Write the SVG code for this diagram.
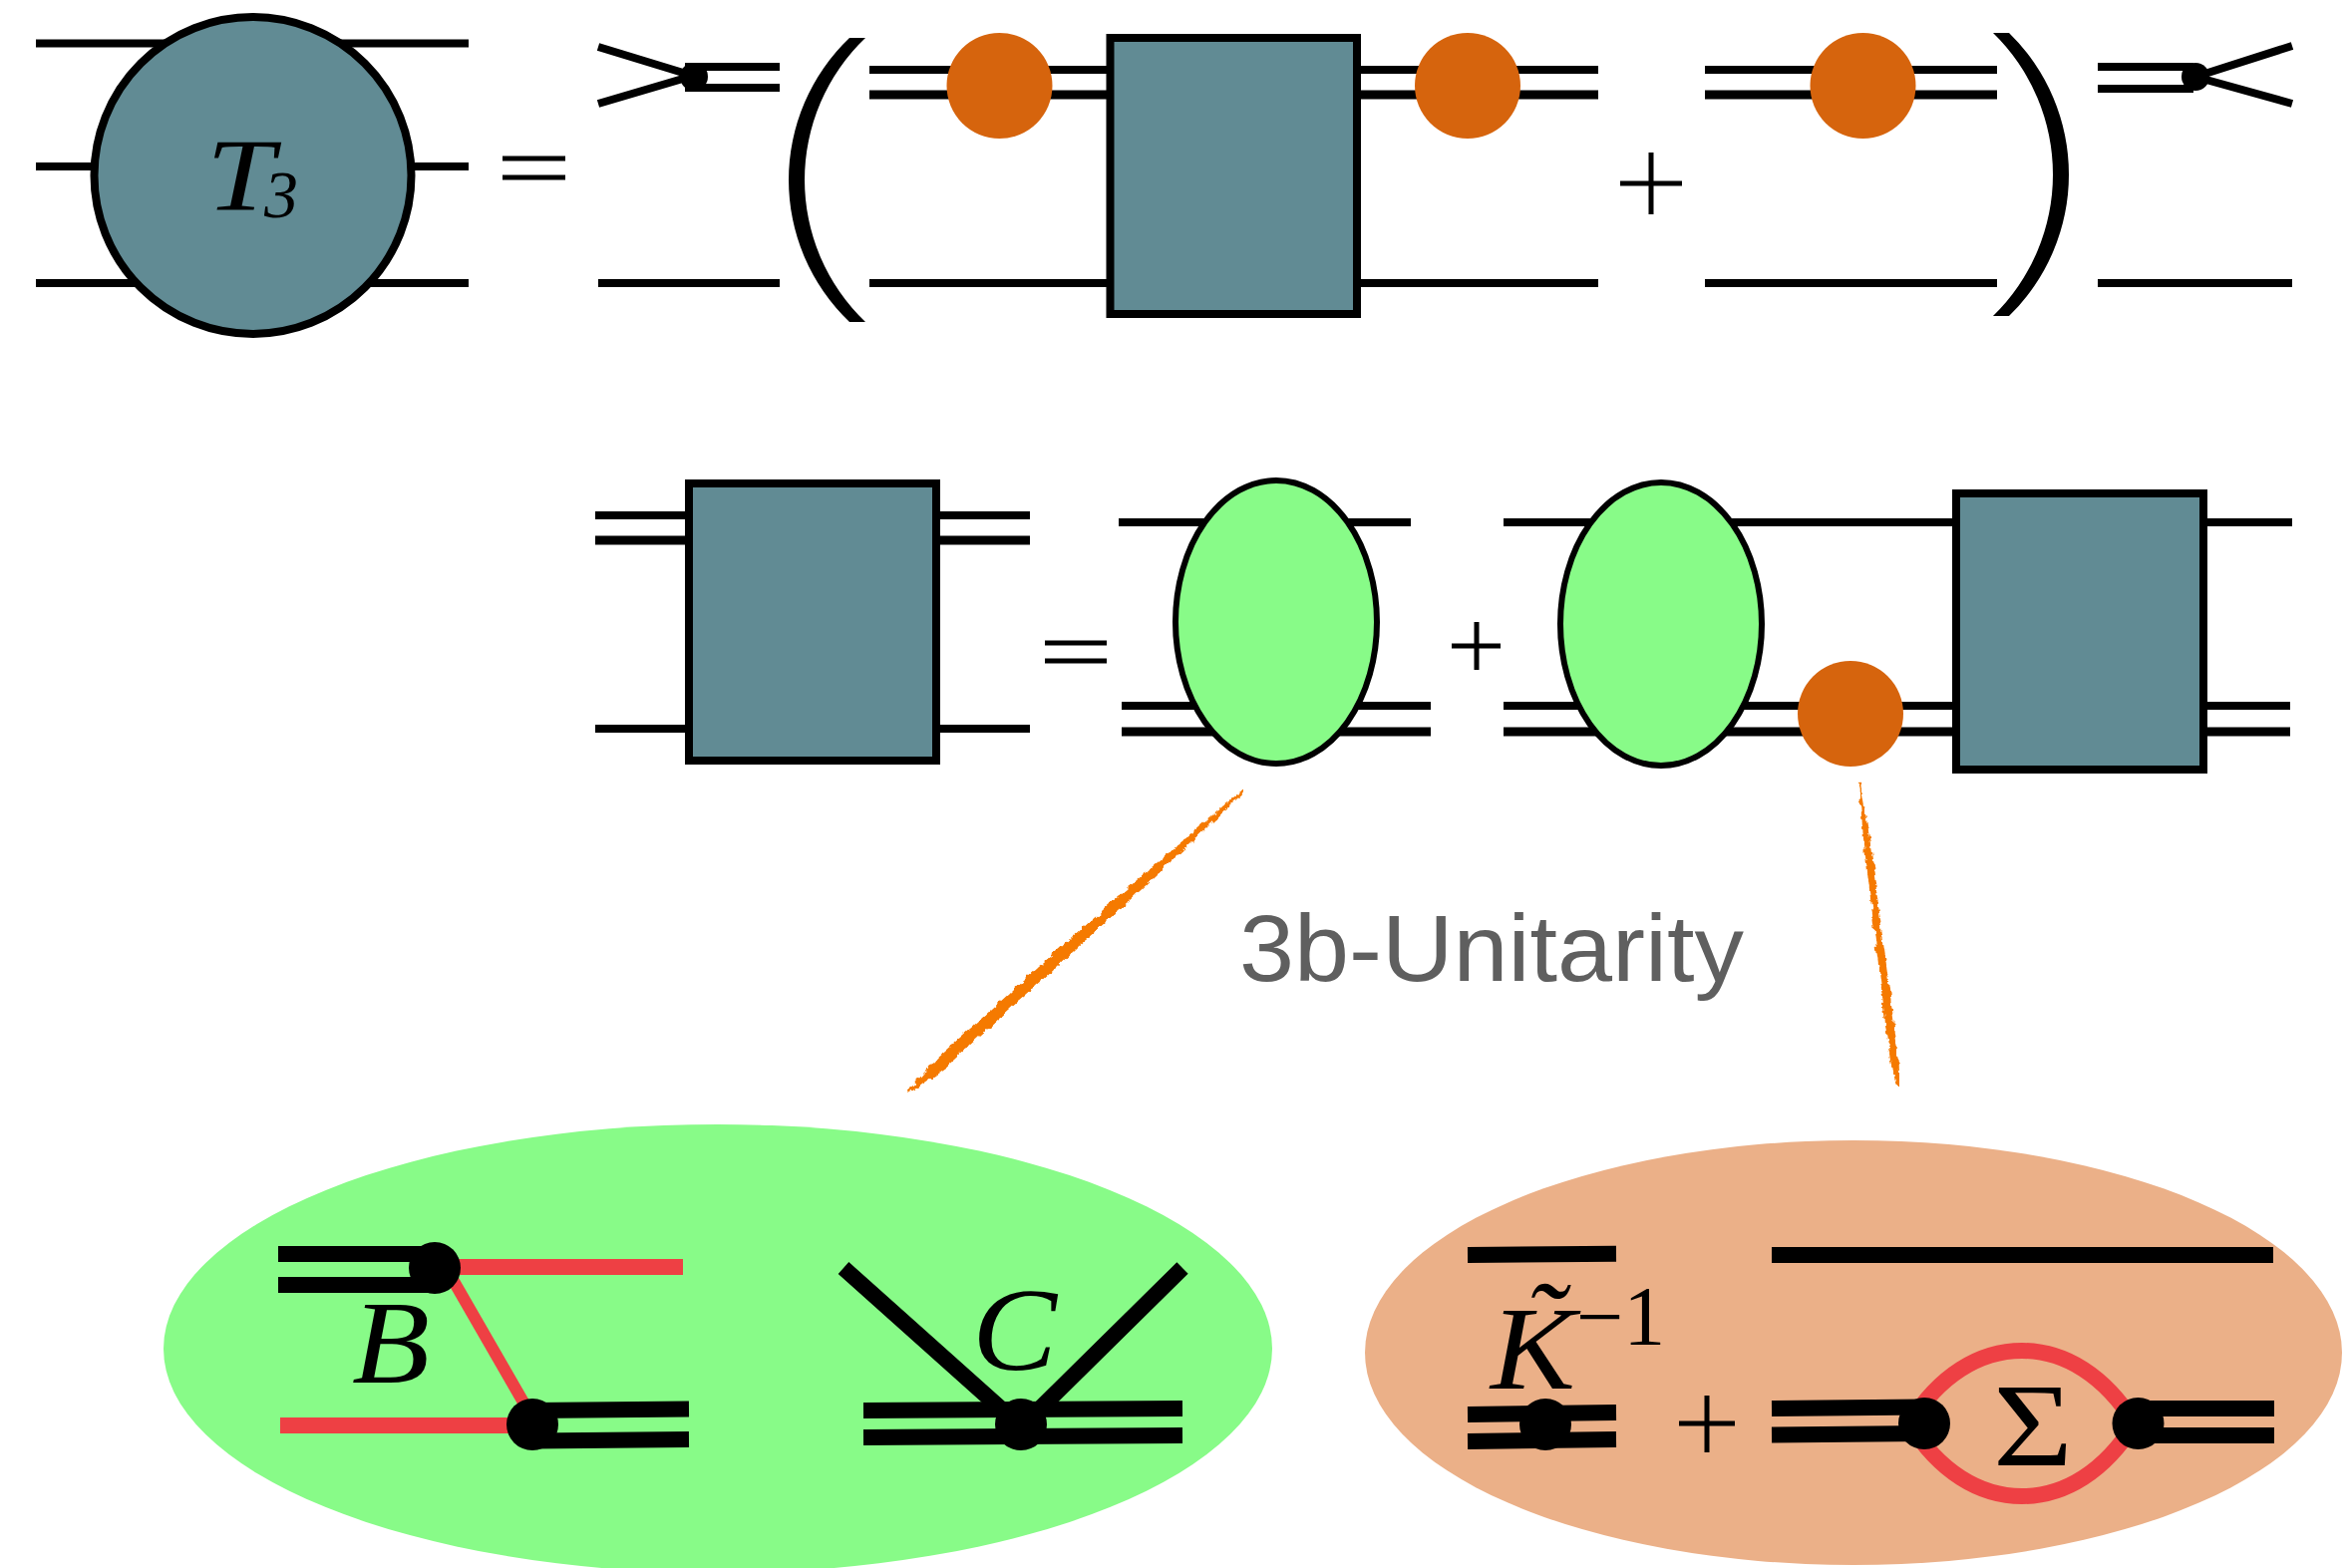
<svg xmlns="http://www.w3.org/2000/svg" width="2357" height="1573" viewBox="0 0 2357 1573">
<style>
.l{stroke:#000;stroke-width:8;fill:none}
.d{stroke:#000;stroke-width:9;fill:none}
.h{stroke:#000;stroke-width:16;fill:none}
.r{stroke:#EE4044;fill:none}
.o{stroke:#000;stroke-width:5;fill:none}
.teal{fill:#618B94;stroke:#000;stroke-width:8}
.gr{fill:#88FB88;stroke:#000;stroke-width:6}
.or{fill:#D6640D}
.dot{fill:#000}
.brush{fill:#F57A00;stroke:#F57A00;stroke-width:2;filter:url(#rough)}
.t{font-family:"Liberation Serif","Times New Roman",serif;fill:#000}
.i{font-style:italic}
</style>
<defs>
<filter id="rough" filterUnits="userSpaceOnUse" x="880" y="760" width="1060" height="360">
<feTurbulence type="fractalNoise" baseFrequency="0.12" numOctaves="3" seed="4" result="n"/>
<feDisplacementMap in="SourceGraphic" in2="n" scale="7" xChannelSelector="R" yChannelSelector="G"/>
</filter>
</defs>
<g id="backgrounds">
<ellipse id="bubble-green" cx="720" cy="1353" rx="556" ry="225" fill="#88FB88"/>
<ellipse id="bubble-peach" cx="1859" cy="1357" rx="490" ry="213" fill="#EBB088"/>
</g>
<g id="connectors">
<path class="l" d="M36 43.500H470M36 167H470M36 284H470"/>
<path class="l" d="M600 47L695 76M600 104L695 76M687 67H782M687 88H782M600 284H782"/>
<path class="l" d="M872 70H1110M1365 70H1603M872 284H1110M1365 284H1603"/>
<path class="d" d="M872 95H1110M1365 95H1603"/>
<path class="l" d="M1710 70H2003M1710 284H2003"/>
<path class="d" d="M1710 95H2003"/>
<path class="l" d="M2104 67H2200M2104 89H2200M2299 46L2202 77M2299 104L2202 77M2104 284H2299"/>
<path class="l" d="M597 517H1033M597 731H1033"/>
<path class="d" d="M597 542H1033"/>
<path class="l" d="M1122 524H1415M1125 708H1435"/>
<path class="d" d="M1125 734H1435"/>
<path class="l" d="M1508 524H2299M1508 708H2297"/>
<path class="d" d="M1508 734H2297"/>
<path class="h" d="M279 1258H436M279 1289H436"/>
<path class="r" stroke-width="16" d="M436 1271H685M281 1430H530"/>
<path class="r" stroke-width="12" d="M452 1280L528 1412"/>
<path class="h" d="M534 1415L691 1413.500M534 1445.500L691 1444"/>
<path class="h" d="M846 1272L1016 1424M1186 1272L1032 1424"/>
<path class="h" d="M866 1415L1186 1413M866 1442L1186 1440"/>
<path class="h" d="M1472 1259L1621 1257.700M1777 1259H2280"/>
<path class="h" d="M1472 1419L1621 1417M1472 1446L1621 1444"/>
<path class="h" d="M1777 1413L1930 1411.500M1777 1439.600L1930 1438M2145 1413H2281M2145 1440H2281"/>
<path class="r" stroke-width="16" d="M1915 1428C1945 1380 1985 1355 2028 1355C2071 1355 2111 1380 2141 1428C2111 1476 2071 1501 2028 1501C1985 1501 1945 1476 1915 1428Z"/>
<path id="brush-left" class="brush" d="M912 1095L926.600 1077.900L941.400 1061.100L974.800 1031.700L1007.900 1001.900L1040.700 971.700L1074.500 942.700L1107.600 912.900L1141 883.400L1174.800 854.400L1208.600 825.300L1247 794L1211.200 828.300L1178.800 858.800L1146.400 889.400L1113.600 919.500L1080.500 949.300L1048.100 979.900L1014.700 1009.300L981.600 1039.100L948.800 1069.300L930.600 1082.300Z"/>
<path id="brush-right" class="brush" d="M1865 785L1870 840L1876.900 900L1884 960L1889 1000L1893.500 1040L1896.500 1060L1899 1075L1903 1088L1903 1075L1902.500 1060L1900.500 1040L1895 1000L1890 960L1881.900 900L1874 840Z"/>
</g>
<g id="T3"><circle class="teal" cx="253.500" cy="176" r="159"/>
<text class="t i" x="207" y="210.500" font-size="104"><tspan textLength="68" lengthAdjust="spacingAndGlyphs">T</tspan><tspan x="265" y="218" font-size="68">3</tspan></text></g>
<g id="eq1"><path class="o" d="M504 159H567M504 178H567"/></g>
<g id="vertex-left"><circle class="dot" cx="696" cy="77" r="14"/></g>
<g id="paren-left"><path class="dot" d="M852 38A197 197 0 0 0 852 323H868A197 197 0 0 1 868 38Z"/></g>
<g id="self-1"><circle class="or" cx="1002.500" cy="86" r="53"/></g>
<g id="box-1"><rect class="teal" x="1113.500" y="38" width="247.500" height="277"/></g>
<g id="self-2"><circle class="or" cx="1472" cy="86" r="53"/></g>
<g id="plus1"><path class="o" d="M1625 184H1687M1656 153V215"/></g>
<g id="self-3"><circle class="or" cx="1868.500" cy="86" r="53"/></g>
<g id="paren-right"><path class="dot" d="M1999 33H2015A198 198 0 0 1 2015 317H1999A198 198 0 0 0 1999 33Z"/></g>
<g id="vertex-right"><circle class="dot" cx="2202" cy="77" r="14"/></g>
<g id="box-2"><rect class="teal" x="691" y="485" width="248" height="278"/></g>
<g id="eq2"><path class="o" d="M1048 645H1110M1048 663H1110"/></g>
<g id="kernel-1"><ellipse class="gr" cx="1280" cy="624" rx="101" ry="142"/></g>
<g id="plus2"><path class="o" d="M1456 648H1505M1481 624V672"/></g>
<g id="kernel-2"><ellipse class="gr" cx="1666" cy="626" rx="101" ry="142"/></g>
<g id="self-4"><circle class="or" cx="1856" cy="716" r="53"/></g>
<g id="box-3"><rect class="teal" x="1962" y="495" width="248" height="277"/></g>
<g id="label-3b"><text x="1243" y="984" font-family="'Liberation Sans',Arial,sans-serif" font-size="95" fill="#5F5F5F" textLength="506" lengthAdjust="spacingAndGlyphs">3b-Unitarity</text></g>
<g id="B-term"><circle class="dot" cx="436" cy="1272" r="26"/><circle class="dot" cx="534" cy="1429" r="26"/>
<text class="t i" x="353" y="1387" font-size="118" textLength="78" lengthAdjust="spacingAndGlyphs">B</text></g>
<g id="C-term"><circle class="dot" cx="1024" cy="1429" r="26"/>
<text class="t i" x="975" y="1374" font-size="118" textLength="85" lengthAdjust="spacingAndGlyphs">C</text></g>
<g id="K-term"><circle class="dot" cx="1550" cy="1429" r="26"/>
<text class="t i" x="1495" y="1393" font-size="118"><tspan textLength="85" lengthAdjust="spacingAndGlyphs">K</tspan><tspan x="1529" y="1368">˜</tspan><tspan x="1581" y="1349" font-size="84" font-style="normal">−1</tspan></text></g>
<g id="plus3"><path class="o" d="M1684 1428H1740M1712 1400V1457"/></g>
<g id="Sigma-term"><circle class="dot" cx="1930" cy="1428" r="26"/><circle class="dot" cx="2144.500" cy="1428" r="26"/>
<text class="t" x="1999" y="1470" font-size="118" textLength="80" lengthAdjust="spacingAndGlyphs">Σ</text></g>
</svg>
